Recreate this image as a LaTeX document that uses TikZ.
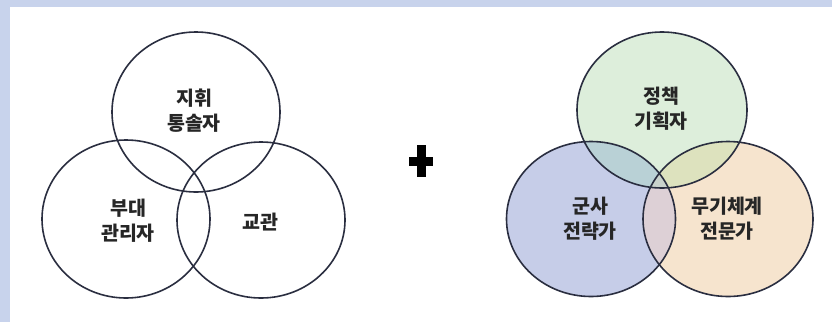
\documentclass[tikz,border=0pt]{standalone}
\usepackage{fontspec}
\newfontfamily\cjk{Noto Sans CJK KR}
\definecolor{bgblue}{HTML}{C8D3EC}
\definecolor{ring}{HTML}{2A2E40}
\definecolor{cgreen}{HTML}{DDEEDB}
\definecolor{cblue}{HTML}{C6CDE8}
\definecolor{cpeach}{HTML}{F6E4CE}
\definecolor{ogl}{HTML}{B9D1D6}
\definecolor{ogr}{HTML}{DDE2BE}
\definecolor{olr}{HTML}{DDD0D6}
\definecolor{oall}{HTML}{C9D2CC}
\definecolor{txt}{HTML}{262626}
\tikzset{
  ring/.style={draw=ring, line width=1.6pt},
  lbl/.style={font=\cjk\bfseries\fontsize{19.5}{25}\selectfont, text=txt, align=center, inner sep=0pt}
}
\begin{document}
\begin{tikzpicture}[x=1pt,y=-1pt]
\useasboundingbox (0,0) rectangle (832,322);
\fill[bgblue] (0,0) rectangle (832,322);
\fill[white] (10,7) rectangle (832,322);
% left venn
\draw[ring] (196,112) ellipse [x radius=84, y radius=80];
\draw[ring] (126,219) ellipse [x radius=84, y radius=79];
\draw[ring] (261,220) ellipse [x radius=84, y radius=78];
\node[lbl] (a1) at (194,111) {지휘\\통솔자};
\node[lbl] (a2) at (128,221) {부대\\관리자};
\node[lbl] (a3) at (260,222) {교관};
% plus
\fill[black] (416.5,145) rectangle (425.5,177);
\fill[black] (409,157) rectangle (433,166);
% right venn
\fill[cgreen] (662,110) ellipse [x radius=85, y radius=78];
\fill[cblue] (591,219) ellipse [x radius=84.5, y radius=77.5];
\fill[cpeach] (728,219) ellipse [x radius=85, y radius=77.5];
\begin{scope}
\clip (662,110) ellipse [x radius=85, y radius=78];
\fill[ogl] (591,219) ellipse [x radius=84.5, y radius=77.5];
\fill[ogr] (728,219) ellipse [x radius=85, y radius=77.5];
\clip (591,219) ellipse [x radius=84.5, y radius=77.5];
\fill[oall] (728,219) ellipse [x radius=85, y radius=77.5];
\end{scope}
\begin{scope}
\clip (591,219) ellipse [x radius=84.5, y radius=77.5];
\clip (728,219) ellipse [x radius=85, y radius=77.5];
\fill[olr] (640,140) rectangle (690,300);
\clip (662,110) ellipse [x radius=85, y radius=78];
\fill[oall] (640,140) rectangle (690,300);
\end{scope}
\draw[ring] (662,110) ellipse [x radius=85, y radius=78];
\draw[ring] (591,219) ellipse [x radius=84.5, y radius=77.5];
\draw[ring] (728,219) ellipse [x radius=85, y radius=77.5];
\node[lbl] (b1) at (661,109) {정책\\기획자};
\node[lbl] (b2) at (590,219) {군사\\전략가};
\node[lbl] (b3) at (727,219) {무기체계\\전문가};
\end{tikzpicture}
\end{document}
